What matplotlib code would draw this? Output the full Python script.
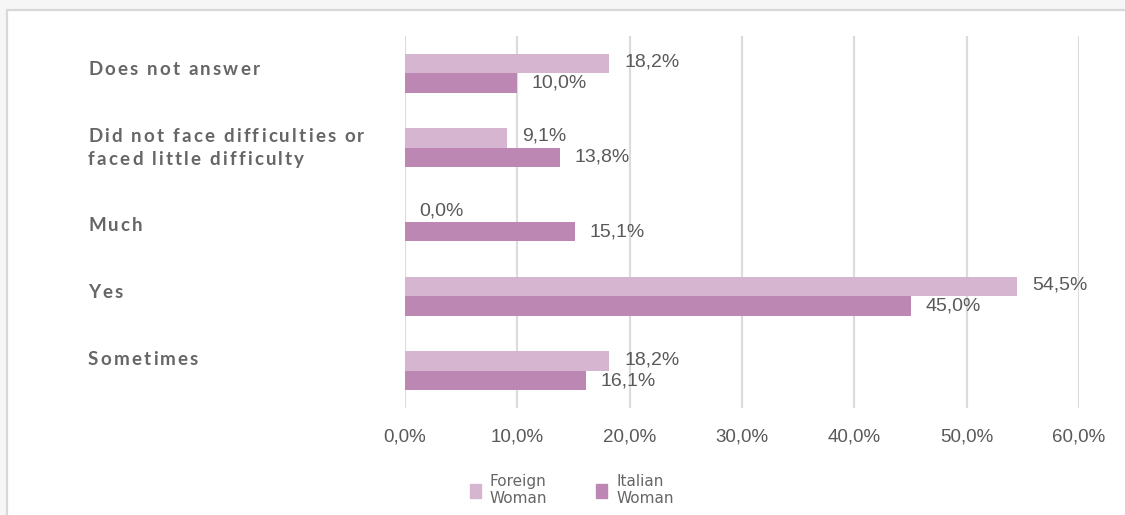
import matplotlib
matplotlib.use("Agg")
import matplotlib.pyplot as plt
from matplotlib.patches import Rectangle, Patch
from matplotlib.font_manager import FontProperties
from matplotlib.transforms import blended_transform_factory

# data
categories = ["Does not answer",
              "Did not face difficulties or\nfaced little difficulty",
              "Much", "Yes", "Sometimes"]
foreign = [18.2, 9.1, 0.0, 54.5, 18.2]
italian = [10.0, 13.8, 15.1, 45.0, 16.1]
xticks = [0, 10, 20, 30, 40, 50, 60]
series_names = ["Foreign\nWoman", "Italian\nWoman"]

c_foreign = "#d5b5cf"
c_italian = "#bd87b3"
txt_gray = "#666666"
num_gray = "#595959"

def pct(v):
    return "{:.1f}%".format(v).replace(".", ",")

fig = plt.figure(figsize=(11.25, 5.15), dpi=100)
fig.patch.set_facecolor("#f6f6f6")
fig.patches.append(Rectangle((7 / 1125, -0.1), 1.2, 1 - 10 / 515 + 0.1,
                             transform=fig.transFigure, facecolor="white",
                             edgecolor="#d8d8d8", linewidth=1.6, zorder=-10))

ax = fig.add_axes([405 / 1125, 1 - 408 / 515, 674 / 1125, 372 / 515])
ax.set_facecolor("none")

ypos = list(range(len(categories)))
h = 0.262
ax.barh([y - h / 2 for y in ypos], foreign, height=h, color=c_foreign, zorder=3)
ax.barh([y + h / 2 for y in ypos], italian, height=h, color=c_italian, zorder=3)

for y, v in zip(ypos, foreign):
    ax.annotate(pct(v), (v, y - h / 2), xytext=(10.5, 1), textcoords="offset points",
                ha="left", va="center", fontsize=14, color=num_gray,
                family="Liberation Sans", zorder=4)
for y, v in zip(ypos, italian):
    ax.annotate(pct(v), (v, y + h / 2), xytext=(10.5, 0), textcoords="offset points",
                ha="left", va="center", fontsize=14, color=num_gray,
                family="Liberation Sans", zorder=4)

ax.set_xlim(0, 60)
ax.set_ylim(len(categories) - 0.5, -0.5)
ax.set_xticks(xticks)
ax.set_xticklabels([pct(t) for t in xticks], fontsize=13.5, color=num_gray,
                   family="Liberation Sans")
ax.tick_params(axis="x", length=0, pad=15)
ax.set_yticks([])
ax.grid(axis="x", color="#dcdcdc", linewidth=1.6, zorder=0)
for s in ax.spines.values():
    s.set_visible(False)

# category labels, left aligned, with letter spacing (Raleway-like look)
renderer = fig.canvas.get_renderer()
fp = FontProperties(family="Lato", weight="bold", size=13.5)
spacing_px = 2.2
line_pt = 16
bar_w = renderer.get_text_width_height_descent("|", fp, ismath=False)[0]

def text_w(t):
    return renderer.get_text_width_height_descent(t + "|", fp, ismath=False)[0] - bar_w

trans = blended_transform_factory(fig.transFigure, ax.transData)
label_shift = [-0.06, -0.01, 0.03, -0.07, -0.17]
for y, lab, d in zip(ypos, categories, label_shift):
    lines = lab.split("\n")
    n = len(lines)
    for li, line in enumerate(lines):
        base = -(li - (n - 1) / 2) * line_pt - 0.36 * fp.get_size_in_points()
        for i, ch in enumerate(line):
            if ch == " ":
                continue
            off = (text_w(line[:i]) + i * spacing_px) * 72 / fig.dpi
            ax.annotate(ch, (88 / 1125, y + d), xycoords=trans,
                        xytext=(off, base), textcoords="offset points",
                        ha="left", va="baseline", fontproperties=fp,
                        color=txt_gray, annotation_clip=False)

handles = [Patch(color=c_foreign), Patch(color=c_italian)]
fig.legend(handles, series_names, loc="center left",
           bbox_to_anchor=(470 / 1125, 1 - 490 / 515), ncol=2, frameon=False,
           prop={"family": "DejaVu Sans", "size": 11},
           labelcolor=txt_gray, handlelength=0.7, handleheight=1.0,
           handletextpad=0.6, columnspacing=3.2, borderaxespad=0, borderpad=0)

fig.savefig("out.png", dpi=100, facecolor=fig.get_facecolor())
